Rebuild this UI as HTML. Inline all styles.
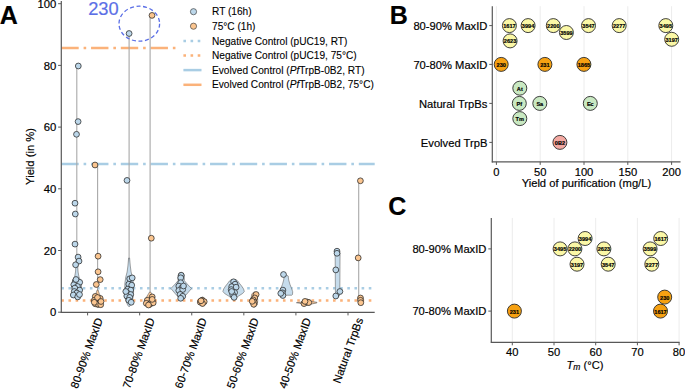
<!DOCTYPE html>
<html><head><meta charset="utf-8"><style>
html,body{margin:0;padding:0;background:#fff;overflow:hidden}
svg{display:block}
text{font-family:"Liberation Sans", sans-serif;stroke:#000;stroke-width:0.18px;paint-order:stroke}
</style></head><body>
<svg width="685" height="389" viewBox="0 0 685 389">
<line x1="61.3" y1="47.9" x2="374.7" y2="47.9" stroke="#fbb27a" stroke-width="2.5" stroke-dasharray="17.4 4.9 2.6 4.85"/>
<line x1="61.3" y1="163.9" x2="374.7" y2="163.9" stroke="#a9cde4" stroke-width="2.5" stroke-dasharray="17.4 4.9 2.6 4.85"/>
<line x1="61.3" y1="288.3" x2="374.7" y2="288.3" stroke="#a9cde4" stroke-width="2.5" stroke-dasharray="2.6 4.55"/>
<line x1="61.3" y1="300.4" x2="374.7" y2="300.4" stroke="#fbb27a" stroke-width="2.5" stroke-dasharray="2.6 4.55"/>
<line x1="76.8" y1="66" x2="76.8" y2="280" stroke="#a8a8a8" stroke-width="1.1"/>
<path d="M76.30,258.00 L75.90,266.00 L75.50,272.00 L74.60,277.00 L72.80,281.00 L72.00,286.00 L72.30,292.00 L73.80,296.00 L76.20,299.00 L77.40,299.00 L79.80,296.00 L81.30,292.00 L81.60,286.00 L80.80,281.00 L79.00,277.00 L78.10,272.00 L77.70,266.00 L77.30,258.00 Z" fill="#c6dcec" stroke="#5a5a5a" stroke-width="0.55" stroke-linejoin="round" opacity="1"/>
<circle cx="78.3" cy="66.0" r="2.9" fill="#bcd7ea" stroke="#262626" stroke-width="0.75"/>
<circle cx="78.1" cy="121.6" r="2.9" fill="#bcd7ea" stroke="#262626" stroke-width="0.75"/>
<circle cx="76.5" cy="134.3" r="2.9" fill="#bcd7ea" stroke="#262626" stroke-width="0.75"/>
<circle cx="75.0" cy="203.2" r="2.9" fill="#bcd7ea" stroke="#262626" stroke-width="0.75"/>
<circle cx="75.3" cy="214.0" r="2.9" fill="#bcd7ea" stroke="#262626" stroke-width="0.75"/>
<circle cx="75.0" cy="244.1" r="2.9" fill="#bcd7ea" stroke="#262626" stroke-width="0.75"/>
<circle cx="78.1" cy="257.1" r="2.9" fill="#bcd7ea" stroke="#262626" stroke-width="0.75"/>
<circle cx="79.0" cy="261.1" r="2.9" fill="#bcd7ea" stroke="#262626" stroke-width="0.75"/>
<circle cx="75.6" cy="264.8" r="2.9" fill="#bcd7ea" stroke="#262626" stroke-width="0.75"/>
<circle cx="75.3" cy="281.3" r="2.9" fill="#bcd7ea" stroke="#262626" stroke-width="0.75"/>
<circle cx="79.7" cy="282.3" r="2.9" fill="#bcd7ea" stroke="#262626" stroke-width="0.75"/>
<circle cx="73.8" cy="284.7" r="2.9" fill="#bcd7ea" stroke="#262626" stroke-width="0.75"/>
<circle cx="77.5" cy="286.5" r="2.9" fill="#bcd7ea" stroke="#262626" stroke-width="0.75"/>
<circle cx="74.8" cy="288.1" r="2.9" fill="#bcd7ea" stroke="#262626" stroke-width="0.75"/>
<circle cx="79.7" cy="290.1" r="2.9" fill="#bcd7ea" stroke="#262626" stroke-width="0.75"/>
<circle cx="74.3" cy="291.5" r="2.9" fill="#bcd7ea" stroke="#262626" stroke-width="0.75"/>
<circle cx="76.8" cy="293" r="2.9" fill="#bcd7ea" stroke="#262626" stroke-width="0.75"/>
<circle cx="73.3" cy="295" r="2.9" fill="#bcd7ea" stroke="#262626" stroke-width="0.75"/>
<circle cx="77.7" cy="296.9" r="2.9" fill="#bcd7ea" stroke="#262626" stroke-width="0.75"/>
<circle cx="79.5" cy="294.5" r="2.9" fill="#bcd7ea" stroke="#262626" stroke-width="0.75"/>
<circle cx="76.0" cy="279.5" r="2.9" fill="#bcd7ea" stroke="#262626" stroke-width="0.75"/>
<line x1="97.6" y1="164.8" x2="97.6" y2="300" stroke="#a8a8a8" stroke-width="1.1"/>
<path d="M97.10,290.00 L95.80,294.00 L94.10,297.00 L93.10,302.00 L94.10,305.00 L97.10,307.50 L98.10,307.50 L101.10,305.00 L102.10,302.00 L101.10,297.00 L99.40,294.00 L98.10,290.00 Z" fill="#f9c89a" stroke="#5a5a5a" stroke-width="0.55" stroke-linejoin="round" opacity="1"/>
<circle cx="95.0" cy="165.0" r="2.9" fill="#fbc58f" stroke="#262626" stroke-width="0.75"/>
<circle cx="98.1" cy="256.2" r="2.9" fill="#fbc58f" stroke="#262626" stroke-width="0.75"/>
<circle cx="98.1" cy="271.8" r="2.9" fill="#fbc58f" stroke="#262626" stroke-width="0.75"/>
<circle cx="100.2" cy="279.6" r="2.9" fill="#fbc58f" stroke="#262626" stroke-width="0.75"/>
<circle cx="96.3" cy="284.5" r="2.9" fill="#fbc58f" stroke="#262626" stroke-width="0.75"/>
<circle cx="95.3" cy="296.4" r="2.9" fill="#fbc58f" stroke="#262626" stroke-width="0.75"/>
<circle cx="100.2" cy="298.4" r="2.9" fill="#fbc58f" stroke="#262626" stroke-width="0.75"/>
<circle cx="94.3" cy="300.3" r="2.9" fill="#fbc58f" stroke="#262626" stroke-width="0.75"/>
<circle cx="97.3" cy="301.3" r="2.9" fill="#fbc58f" stroke="#262626" stroke-width="0.75"/>
<circle cx="99.7" cy="302.3" r="2.9" fill="#fbc58f" stroke="#262626" stroke-width="0.75"/>
<circle cx="95.3" cy="303.8" r="2.9" fill="#fbc58f" stroke="#262626" stroke-width="0.75"/>
<circle cx="98.3" cy="304.3" r="2.9" fill="#fbc58f" stroke="#262626" stroke-width="0.75"/>
<circle cx="100.7" cy="304.7" r="2.9" fill="#fbc58f" stroke="#262626" stroke-width="0.75"/>
<circle cx="94.3" cy="302.3" r="2.9" fill="#fbc58f" stroke="#262626" stroke-width="0.75"/>
<circle cx="97.5" cy="297.5" r="2.9" fill="#fbc58f" stroke="#262626" stroke-width="0.75"/>
<circle cx="101" cy="301.5" r="2.9" fill="#fbc58f" stroke="#262626" stroke-width="0.75"/>
<line x1="129.1" y1="33.5" x2="129.1" y2="280" stroke="#a8a8a8" stroke-width="1.1"/>
<path d="M128.60,258.00 L127.90,266.00 L127.10,272.00 L125.80,277.00 L124.90,283.00 L124.60,292.00 L125.60,300.00 L127.60,305.00 L128.70,306.50 L129.50,306.50 L130.60,305.00 L132.60,300.00 L133.60,292.00 L133.30,283.00 L132.40,277.00 L131.10,272.00 L130.30,266.00 L129.60,258.00 Z" fill="#c6dcec" stroke="#5a5a5a" stroke-width="0.55" stroke-linejoin="round" opacity="1"/>
<circle cx="129.1" cy="33.5" r="2.9" fill="#bcd7ea" stroke="#262626" stroke-width="0.75"/>
<circle cx="127.0" cy="180.4" r="2.9" fill="#bcd7ea" stroke="#262626" stroke-width="0.75"/>
<circle cx="129.7" cy="278.8" r="2.9" fill="#bcd7ea" stroke="#262626" stroke-width="0.75"/>
<circle cx="132.2" cy="277.9" r="2.9" fill="#bcd7ea" stroke="#262626" stroke-width="0.75"/>
<circle cx="128.8" cy="284.2" r="2.9" fill="#bcd7ea" stroke="#262626" stroke-width="0.75"/>
<circle cx="131.7" cy="285.2" r="2.9" fill="#bcd7ea" stroke="#262626" stroke-width="0.75"/>
<circle cx="127.8" cy="289.1" r="2.9" fill="#bcd7ea" stroke="#262626" stroke-width="0.75"/>
<circle cx="130.7" cy="290.1" r="2.9" fill="#bcd7ea" stroke="#262626" stroke-width="0.75"/>
<circle cx="127.3" cy="293" r="2.9" fill="#bcd7ea" stroke="#262626" stroke-width="0.75"/>
<circle cx="130.7" cy="294.5" r="2.9" fill="#bcd7ea" stroke="#262626" stroke-width="0.75"/>
<circle cx="126.8" cy="296" r="2.9" fill="#bcd7ea" stroke="#262626" stroke-width="0.75"/>
<circle cx="129.7" cy="297.4" r="2.9" fill="#bcd7ea" stroke="#262626" stroke-width="0.75"/>
<circle cx="128.8" cy="300.3" r="2.9" fill="#bcd7ea" stroke="#262626" stroke-width="0.75"/>
<circle cx="131.2" cy="302.3" r="2.9" fill="#bcd7ea" stroke="#262626" stroke-width="0.75"/>
<circle cx="125.8" cy="291.5" r="2.9" fill="#bcd7ea" stroke="#262626" stroke-width="0.75"/>
<line x1="150.1" y1="15.4" x2="150.1" y2="300" stroke="#a8a8a8" stroke-width="1.1"/>
<path d="M149.60,292.00 L147.10,296.00 L145.10,300.00 L145.60,304.00 L149.60,307.50 L150.60,307.50 L154.60,304.00 L155.10,300.00 L153.10,296.00 L150.60,292.00 Z" fill="#f9c89a" stroke="#5a5a5a" stroke-width="0.55" stroke-linejoin="round" opacity="1"/>
<circle cx="152.0" cy="15.4" r="2.9" fill="#fbc58f" stroke="#262626" stroke-width="0.75"/>
<circle cx="151.3" cy="238.2" r="2.9" fill="#fbc58f" stroke="#262626" stroke-width="0.75"/>
<circle cx="152.2" cy="296.9" r="2.9" fill="#fbc58f" stroke="#262626" stroke-width="0.75"/>
<circle cx="147.3" cy="300.3" r="2.9" fill="#fbc58f" stroke="#262626" stroke-width="0.75"/>
<circle cx="151.7" cy="301.3" r="2.9" fill="#fbc58f" stroke="#262626" stroke-width="0.75"/>
<circle cx="146.3" cy="303.3" r="2.9" fill="#fbc58f" stroke="#262626" stroke-width="0.75"/>
<circle cx="150.3" cy="303.8" r="2.9" fill="#fbc58f" stroke="#262626" stroke-width="0.75"/>
<circle cx="153.2" cy="302.8" r="2.9" fill="#fbc58f" stroke="#262626" stroke-width="0.75"/>
<circle cx="152.2" cy="299.4" r="2.9" fill="#fbc58f" stroke="#262626" stroke-width="0.75"/>
<circle cx="148.5" cy="305" r="2.9" fill="#fbc58f" stroke="#262626" stroke-width="0.75"/>
<path d="M180.70,272.40 L179.00,273.20 L178.20,275.00 L178.00,280.70 L175.20,284.00 L170.90,288.50 L174.70,293.00 L178.20,297.00 L180.80,300.30 L181.60,300.30 L184.20,297.00 L187.70,293.00 L191.50,288.50 L187.20,284.00 L184.40,280.70 L184.20,275.00 L183.40,273.20 L181.70,272.40 Z" fill="#c6dcec" stroke="#5a5a5a" stroke-width="0.55" stroke-linejoin="round" opacity="1"/>
<circle cx="181.2" cy="275.3" r="2.9" fill="#bcd7ea" stroke="#262626" stroke-width="0.75"/>
<circle cx="180.7" cy="277.8" r="2.9" fill="#bcd7ea" stroke="#262626" stroke-width="0.75"/>
<circle cx="180.7" cy="282.7" r="2.9" fill="#bcd7ea" stroke="#262626" stroke-width="0.75"/>
<circle cx="178.8" cy="286.1" r="2.9" fill="#bcd7ea" stroke="#262626" stroke-width="0.75"/>
<circle cx="181.7" cy="288" r="2.9" fill="#bcd7ea" stroke="#262626" stroke-width="0.75"/>
<circle cx="178.8" cy="290.5" r="2.9" fill="#bcd7ea" stroke="#262626" stroke-width="0.75"/>
<circle cx="182.7" cy="289.5" r="2.9" fill="#bcd7ea" stroke="#262626" stroke-width="0.75"/>
<circle cx="180.2" cy="294.4" r="2.9" fill="#bcd7ea" stroke="#262626" stroke-width="0.75"/>
<circle cx="182.7" cy="296.3" r="2.9" fill="#bcd7ea" stroke="#262626" stroke-width="0.75"/>
<circle cx="180.7" cy="298.3" r="2.9" fill="#bcd7ea" stroke="#262626" stroke-width="0.75"/>
<circle cx="183.5" cy="286" r="2.9" fill="#bcd7ea" stroke="#262626" stroke-width="0.75"/>
<path d="M202.00,297.00 L199.50,299.00 L198.50,302.00 L200.00,305.00 L202.00,306.00 L203.00,306.00 L205.00,305.00 L206.50,302.00 L205.50,299.00 L203.00,297.00 Z" fill="#f9c89a" stroke="#5a5a5a" stroke-width="0.55" stroke-linejoin="round" opacity="1"/>
<circle cx="202.2" cy="300.3" r="2.9" fill="#fbc58f" stroke="#262626" stroke-width="0.75"/>
<circle cx="200.3" cy="302.2" r="2.9" fill="#fbc58f" stroke="#262626" stroke-width="0.75"/>
<circle cx="204.2" cy="301.7" r="2.9" fill="#fbc58f" stroke="#262626" stroke-width="0.75"/>
<circle cx="202.5" cy="303.5" r="2.9" fill="#fbc58f" stroke="#262626" stroke-width="0.75"/>
<circle cx="201" cy="300.8" r="2.9" fill="#fbc58f" stroke="#262626" stroke-width="0.75"/>
<path d="M233.10,279.50 L231.10,279.80 L229.40,281.00 L228.00,283.00 L225.60,286.00 L223.60,289.00 L222.90,291.50 L224.60,293.50 L228.60,296.00 L233.20,299.40 L234.00,299.40 L238.60,296.00 L242.60,293.50 L244.30,291.50 L243.60,289.00 L241.60,286.00 L239.20,283.00 L237.80,281.00 L236.10,279.80 L234.10,279.50 Z" fill="#c6dcec" stroke="#5a5a5a" stroke-width="0.55" stroke-linejoin="round" opacity="1"/>
<circle cx="233.6" cy="281.8" r="2.9" fill="#bcd7ea" stroke="#262626" stroke-width="0.75"/>
<circle cx="235.1" cy="284.2" r="2.9" fill="#bcd7ea" stroke="#262626" stroke-width="0.75"/>
<circle cx="231.7" cy="286.7" r="2.9" fill="#bcd7ea" stroke="#262626" stroke-width="0.75"/>
<circle cx="236.1" cy="287.2" r="2.9" fill="#bcd7ea" stroke="#262626" stroke-width="0.75"/>
<circle cx="231.2" cy="289.6" r="2.9" fill="#bcd7ea" stroke="#262626" stroke-width="0.75"/>
<circle cx="234.6" cy="292.5" r="2.9" fill="#bcd7ea" stroke="#262626" stroke-width="0.75"/>
<circle cx="232.7" cy="294.5" r="2.9" fill="#bcd7ea" stroke="#262626" stroke-width="0.75"/>
<circle cx="234.1" cy="297.4" r="2.9" fill="#bcd7ea" stroke="#262626" stroke-width="0.75"/>
<circle cx="231.7" cy="291.5" r="2.9" fill="#bcd7ea" stroke="#262626" stroke-width="0.75"/>
<path d="M253.80,292.00 L251.80,294.00 L250.80,300.00 L251.30,305.00 L253.80,307.00 L254.80,307.00 L257.30,305.00 L257.80,300.00 L256.80,294.00 L254.80,292.00 Z" fill="#f9c89a" stroke="#5a5a5a" stroke-width="0.55" stroke-linejoin="round" opacity="1"/>
<circle cx="256.1" cy="294.5" r="2.9" fill="#fbc58f" stroke="#262626" stroke-width="0.75"/>
<circle cx="254.7" cy="297.9" r="2.9" fill="#fbc58f" stroke="#262626" stroke-width="0.75"/>
<circle cx="253.2" cy="299.9" r="2.9" fill="#fbc58f" stroke="#262626" stroke-width="0.75"/>
<circle cx="254.2" cy="302.3" r="2.9" fill="#fbc58f" stroke="#262626" stroke-width="0.75"/>
<circle cx="253.7" cy="304.3" r="2.9" fill="#fbc58f" stroke="#262626" stroke-width="0.75"/>
<circle cx="252.2" cy="301.3" r="2.9" fill="#fbc58f" stroke="#262626" stroke-width="0.75"/>
<path d="M285.70,275.20 L284.20,276.00 L283.70,280.00 L282.50,284.20 L281.00,288.00 L279.70,291.70 L279.90,294.50 L280.70,295.20 L291.70,295.20 L292.50,294.50 L292.70,291.70 L291.40,288.00 L289.90,284.20 L288.70,280.00 L288.20,276.00 L286.70,275.20 Z" fill="#c6dcec" stroke="#5a5a5a" stroke-width="0.55" stroke-linejoin="round" opacity="1"/>
<circle cx="283.5" cy="274.5" r="2.9" fill="#bcd7ea" stroke="#262626" stroke-width="0.75"/>
<circle cx="282.9" cy="290.1" r="2.9" fill="#bcd7ea" stroke="#262626" stroke-width="0.75"/>
<circle cx="282.4" cy="292.8" r="2.9" fill="#bcd7ea" stroke="#262626" stroke-width="0.75"/>
<circle cx="282.9" cy="295.5" r="2.9" fill="#bcd7ea" stroke="#262626" stroke-width="0.75"/>
<circle cx="280.8" cy="293.4" r="2.9" fill="#bcd7ea" stroke="#262626" stroke-width="0.75"/>
<path d="M296.4,302.7 L301,302.2 L303,300.3 L309,299.9 L311.5,301.5 L316.9,302.3 L316.9,302.9 L311.5,304 L309,305.3 L303,305.4 L301,303.4 Z" fill="#f9c89a" stroke="#555" stroke-width="0.6"/>
<circle cx="304" cy="303.6" r="2.9" fill="#fbc58f" stroke="#262626" stroke-width="0.75"/>
<circle cx="307.2" cy="302" r="2.9" fill="#fbc58f" stroke="#262626" stroke-width="0.75"/>
<circle cx="308.8" cy="302.5" r="2.9" fill="#fbc58f" stroke="#262626" stroke-width="0.75"/>
<circle cx="305" cy="301.4" r="2.9" fill="#fbc58f" stroke="#262626" stroke-width="0.75"/>
<path d="M336.10,251.00 L335.10,253.00 L335.20,260.00 L335.30,280.00 L335.40,292.00 L335.80,296.00 L337.10,297.00 L338.10,297.00 L339.40,296.00 L339.80,292.00 L339.90,280.00 L340.00,260.00 L340.10,253.00 L339.10,251.00 Z" fill="#c6dcec" stroke="#5a5a5a" stroke-width="0.55" stroke-linejoin="round" opacity="1"/>
<circle cx="337.0" cy="251.2" r="2.9" fill="#bcd7ea" stroke="#262626" stroke-width="0.75"/>
<circle cx="337.0" cy="253.3" r="2.9" fill="#bcd7ea" stroke="#262626" stroke-width="0.75"/>
<circle cx="335.8" cy="269.9" r="2.9" fill="#bcd7ea" stroke="#262626" stroke-width="0.75"/>
<circle cx="339.9" cy="291.5" r="2.9" fill="#bcd7ea" stroke="#262626" stroke-width="0.75"/>
<circle cx="335.8" cy="296.0" r="2.9" fill="#bcd7ea" stroke="#262626" stroke-width="0.75"/>
<line x1="358.7" y1="180.8" x2="358.7" y2="300" stroke="#a8a8a8" stroke-width="1.1"/>
<circle cx="360.4" cy="180.8" r="2.9" fill="#fbc58f" stroke="#262626" stroke-width="0.75"/>
<circle cx="358.2" cy="257.9" r="2.9" fill="#fbc58f" stroke="#262626" stroke-width="0.75"/>
<circle cx="360.5" cy="298.0" r="2.9" fill="#fbc58f" stroke="#262626" stroke-width="0.75"/>
<circle cx="360.5" cy="300.3" r="2.9" fill="#fbc58f" stroke="#262626" stroke-width="0.75"/>
<circle cx="360.8" cy="302.7" r="2.9" fill="#fbc58f" stroke="#262626" stroke-width="0.75"/>
<line x1="61.3" y1="1.0" x2="61.3" y2="312.9" stroke="#585858" stroke-width="1.2"/>
<line x1="60.8" y1="312.4" x2="374.7" y2="312.4" stroke="#585858" stroke-width="1.2"/>
<line x1="58.099999999999994" y1="312.20" x2="61.3" y2="312.20" stroke="#585858" stroke-width="1"/>
<text fill="#000" x="56.3" y="316.40" text-anchor="end" font-size="11.3">0</text>
<line x1="58.099999999999994" y1="250.50" x2="61.3" y2="250.50" stroke="#585858" stroke-width="1"/>
<text fill="#000" x="56.3" y="254.70" text-anchor="end" font-size="11.3">20</text>
<line x1="58.099999999999994" y1="188.80" x2="61.3" y2="188.80" stroke="#585858" stroke-width="1"/>
<text fill="#000" x="56.3" y="193.00" text-anchor="end" font-size="11.3">40</text>
<line x1="58.099999999999994" y1="127.10" x2="61.3" y2="127.10" stroke="#585858" stroke-width="1"/>
<text fill="#000" x="56.3" y="131.30" text-anchor="end" font-size="11.3">60</text>
<line x1="58.099999999999994" y1="65.40" x2="61.3" y2="65.40" stroke="#585858" stroke-width="1"/>
<text fill="#000" x="56.3" y="69.60" text-anchor="end" font-size="11.3">80</text>
<line x1="58.099999999999994" y1="3.70" x2="61.3" y2="3.70" stroke="#585858" stroke-width="1"/>
<text fill="#000" x="56.3" y="7.90" text-anchor="end" font-size="11.3">100</text>
<line x1="87.60" y1="312.4" x2="87.60" y2="315.4" stroke="#585858" stroke-width="1"/>
<line x1="139.68" y1="312.4" x2="139.68" y2="315.4" stroke="#585858" stroke-width="1"/>
<line x1="191.76" y1="312.4" x2="191.76" y2="315.4" stroke="#585858" stroke-width="1"/>
<line x1="243.84" y1="312.4" x2="243.84" y2="315.4" stroke="#585858" stroke-width="1"/>
<line x1="295.92" y1="312.4" x2="295.92" y2="315.4" stroke="#585858" stroke-width="1"/>
<line x1="348.00" y1="312.4" x2="348.00" y2="315.4" stroke="#585858" stroke-width="1"/>
<text fill="#000" transform="translate(102.90,319.6) rotate(-70)" text-anchor="end" font-size="11.2">80-90% MaxID</text>
<text fill="#000" transform="translate(154.98,319.6) rotate(-70)" text-anchor="end" font-size="11.2">70-80% MaxID</text>
<text fill="#000" transform="translate(207.06,319.6) rotate(-70)" text-anchor="end" font-size="11.2">60-70% MaxID</text>
<text fill="#000" transform="translate(259.14,319.6) rotate(-70)" text-anchor="end" font-size="11.2">50-60% MaxID</text>
<text fill="#000" transform="translate(311.22,319.6) rotate(-70)" text-anchor="end" font-size="11.2">40-50% MaxID</text>
<text fill="#000" transform="translate(363.30,319.6) rotate(-70)" text-anchor="end" font-size="11.2">Natural TrpBs</text>
<text fill="#000" transform="translate(34.3,156.5) rotate(-90)" text-anchor="middle" font-size="11.2">Yield (in %)</text>
<text fill="#000" x="-0.3" y="24" font-size="25" font-weight="bold">A</text>
<ellipse cx="139.3" cy="23.7" rx="20.3" ry="17.5" fill="none" stroke="#5b6fe6" stroke-width="1.3" stroke-dasharray="4 2.6"/>
<text x="88.2" y="15.4" font-size="18.3" fill="#5b6fe6" style="stroke:#5b6fe6">230</text>
<rect x="178" y="1" width="200" height="94" fill="#fff"/>
<circle cx="193.5" cy="11.7" r="3.1" fill="#bcd7ea" stroke="#444" stroke-width="0.7"/>
<circle cx="193.5" cy="26.2" r="3.1" fill="#fbc58f" stroke="#444" stroke-width="0.7"/>
<line x1="183.4" y1="40.9" x2="203" y2="40.9" stroke="#a9cde4" stroke-width="2.5" stroke-dasharray="2.6 4.55"/>
<line x1="183.4" y1="55.4" x2="203" y2="55.4" stroke="#fbb27a" stroke-width="2.5" stroke-dasharray="2.6 4.55"/>
<line x1="183.4" y1="70.1" x2="201.5" y2="70.1" stroke="#a9cde4" stroke-width="2.5"/>
<line x1="183.4" y1="84.8" x2="201.5" y2="84.8" stroke="#fbb27a" stroke-width="2.5"/>
<text fill="#000" x="212.0" y="15.30" font-size="10.15" style="stroke-width:0.1px">RT (16h)</text>
<text fill="#000" x="212.0" y="29.92" font-size="10.15" style="stroke-width:0.1px">75°C (1h)</text>
<text fill="#000" x="212.0" y="44.54" font-size="10.15" style="stroke-width:0.1px">Negative Control (pUC19, RT)</text>
<text fill="#000" x="212.0" y="59.16" font-size="10.15" style="stroke-width:0.1px">Negative Control (pUC19, 75°C)</text>
<text fill="#000" x="212.0" y="73.78" font-size="10.15" style="stroke-width:0.1px">Evolved Control (<tspan font-style="italic">Pf</tspan>TrpB-0B2, RT)</text>
<text fill="#000" x="212.0" y="88.40" font-size="10.15" style="stroke-width:0.1px">Evolved Control (<tspan font-style="italic">Pf</tspan>TrpB-0B2, 75°C)</text>
<line x1="496.40" y1="6.2" x2="496.40" y2="161.9" stroke="#ececec" stroke-width="1"/>
<line x1="540.20" y1="6.2" x2="540.20" y2="161.9" stroke="#ececec" stroke-width="1"/>
<line x1="584.00" y1="6.2" x2="584.00" y2="161.9" stroke="#ececec" stroke-width="1"/>
<line x1="627.80" y1="6.2" x2="627.80" y2="161.9" stroke="#ececec" stroke-width="1"/>
<line x1="671.60" y1="6.2" x2="671.60" y2="161.9" stroke="#ececec" stroke-width="1"/>
<text fill="#000" x="-0.3" y="0" font-size="25" font-weight="bold" transform="translate(390.1,23.8)">B</text>
<line x1="489.3" y1="25.6" x2="492.3" y2="25.6" stroke="#585858" stroke-width="1"/>
<text fill="#000" x="487.4" y="29.70" text-anchor="end" font-size="11.2">80-90% MaxID</text>
<line x1="489.3" y1="64.4" x2="492.3" y2="64.4" stroke="#585858" stroke-width="1"/>
<text fill="#000" x="487.4" y="68.50" text-anchor="end" font-size="11.2">70-80% MaxID</text>
<line x1="489.3" y1="103.4" x2="492.3" y2="103.4" stroke="#585858" stroke-width="1"/>
<text fill="#000" x="487.4" y="107.50" text-anchor="end" font-size="11.2">Natural TrpBs</text>
<line x1="489.3" y1="142.4" x2="492.3" y2="142.4" stroke="#585858" stroke-width="1"/>
<text fill="#000" x="487.4" y="146.50" text-anchor="end" font-size="11.2">Evolved TrpB</text>
<line x1="492.3" y1="6.2" x2="492.3" y2="162.4" stroke="#585858" stroke-width="1.2"/>
<line x1="491.8" y1="161.9" x2="680.5" y2="161.9" stroke="#585858" stroke-width="1.2"/>
<line x1="496.40" y1="161.9" x2="496.40" y2="164.9" stroke="#585858" stroke-width="1"/>
<text fill="#000" x="496.40" y="175.7" text-anchor="middle" font-size="11.2">0</text>
<line x1="540.20" y1="161.9" x2="540.20" y2="164.9" stroke="#585858" stroke-width="1"/>
<text fill="#000" x="540.20" y="175.7" text-anchor="middle" font-size="11.2">50</text>
<line x1="584.00" y1="161.9" x2="584.00" y2="164.9" stroke="#585858" stroke-width="1"/>
<text fill="#000" x="584.00" y="175.7" text-anchor="middle" font-size="11.2">100</text>
<line x1="627.80" y1="161.9" x2="627.80" y2="164.9" stroke="#585858" stroke-width="1"/>
<text fill="#000" x="627.80" y="175.7" text-anchor="middle" font-size="11.2">150</text>
<line x1="671.60" y1="161.9" x2="671.60" y2="164.9" stroke="#585858" stroke-width="1"/>
<text fill="#000" x="671.60" y="175.7" text-anchor="middle" font-size="11.2">200</text>
<text fill="#000" x="586.4" y="187.3" text-anchor="middle" font-size="11.2">Yield of purification (mg/L)</text>
<circle cx="509.4" cy="25.6" r="7.0" fill="#fbf8a6" stroke="#2a2a2a" stroke-width="0.9"/>
<text fill="#000" x="509.4" y="28.00" text-anchor="middle" font-size="5.6" font-weight="bold">1617</text>
<circle cx="528.1" cy="25.6" r="7.0" fill="#fbf8a6" stroke="#2a2a2a" stroke-width="0.9"/>
<text fill="#000" x="528.1" y="28.00" text-anchor="middle" font-size="5.6" font-weight="bold">3994</text>
<circle cx="553.3" cy="25.6" r="7.0" fill="#fbf8a6" stroke="#2a2a2a" stroke-width="0.9"/>
<text fill="#000" x="553.3" y="28.00" text-anchor="middle" font-size="5.6" font-weight="bold">2200</text>
<circle cx="566.4" cy="32.5" r="7.0" fill="#fbf8a6" stroke="#2a2a2a" stroke-width="0.9"/>
<text fill="#000" x="566.4" y="34.90" text-anchor="middle" font-size="5.6" font-weight="bold">3599</text>
<circle cx="510.1" cy="40.9" r="7.0" fill="#fbf8a6" stroke="#2a2a2a" stroke-width="0.9"/>
<text fill="#000" x="510.1" y="43.30" text-anchor="middle" font-size="5.6" font-weight="bold">2623</text>
<circle cx="588.5" cy="25.6" r="7.0" fill="#fbf8a6" stroke="#2a2a2a" stroke-width="0.9"/>
<text fill="#000" x="588.5" y="28.00" text-anchor="middle" font-size="5.6" font-weight="bold">3547</text>
<circle cx="619.2" cy="25.6" r="7.0" fill="#fbf8a6" stroke="#2a2a2a" stroke-width="0.9"/>
<text fill="#000" x="619.2" y="28.00" text-anchor="middle" font-size="5.6" font-weight="bold">2277</text>
<circle cx="665.8" cy="25.6" r="7.0" fill="#fbf8a6" stroke="#2a2a2a" stroke-width="0.9"/>
<text fill="#000" x="665.8" y="28.00" text-anchor="middle" font-size="5.6" font-weight="bold">3495</text>
<circle cx="671.7" cy="39.3" r="7.0" fill="#fbf8a6" stroke="#2a2a2a" stroke-width="0.9"/>
<text fill="#000" x="671.7" y="41.70" text-anchor="middle" font-size="5.6" font-weight="bold">3197</text>
<circle cx="501.2" cy="64.4" r="7.0" fill="#f6a112" stroke="#2a2a2a" stroke-width="0.9"/>
<text fill="#000" x="501.2" y="66.80" text-anchor="middle" font-size="5.6" font-weight="bold">230</text>
<circle cx="544.9" cy="64.4" r="7.0" fill="#f6a112" stroke="#2a2a2a" stroke-width="0.9"/>
<text fill="#000" x="544.9" y="66.80" text-anchor="middle" font-size="5.6" font-weight="bold">231</text>
<circle cx="583.9" cy="64.4" r="7.0" fill="#f6a112" stroke="#2a2a2a" stroke-width="0.9"/>
<text fill="#000" x="583.9" y="66.80" text-anchor="middle" font-size="5.6" font-weight="bold">1865</text>
<circle cx="519.8" cy="88.2" r="7.0" fill="#c9e9c2" stroke="#2a2a2a" stroke-width="0.9"/>
<text fill="#000" x="519.8" y="90.60" text-anchor="middle" font-size="5.6" font-weight="bold">At</text>
<circle cx="519.3" cy="103.4" r="7.0" fill="#c9e9c2" stroke="#2a2a2a" stroke-width="0.9"/>
<text fill="#000" x="519.3" y="105.80" text-anchor="middle" font-size="5.6" font-weight="bold">Pf</text>
<circle cx="519.8" cy="118.6" r="7.0" fill="#c9e9c2" stroke="#2a2a2a" stroke-width="0.9"/>
<text fill="#000" x="519.8" y="121.00" text-anchor="middle" font-size="5.6" font-weight="bold">Tm</text>
<circle cx="539.8" cy="103.4" r="7.0" fill="#c9e9c2" stroke="#2a2a2a" stroke-width="0.9"/>
<text fill="#000" x="539.8" y="105.80" text-anchor="middle" font-size="5.6" font-weight="bold">Sa</text>
<circle cx="590.3" cy="103.4" r="7.0" fill="#c9e9c2" stroke="#2a2a2a" stroke-width="0.9"/>
<text fill="#000" x="590.3" y="105.80" text-anchor="middle" font-size="5.6" font-weight="bold">Ec</text>
<circle cx="559.9" cy="142.4" r="7.0" fill="#f4a9a2" stroke="#2a2a2a" stroke-width="0.9"/>
<text fill="#000" x="559.9" y="144.80" text-anchor="middle" font-size="5.6" font-weight="bold">0B2</text>
<line x1="512.30" y1="217.9" x2="512.30" y2="342.3" stroke="#ececec" stroke-width="1"/>
<line x1="554.00" y1="217.9" x2="554.00" y2="342.3" stroke="#ececec" stroke-width="1"/>
<line x1="595.70" y1="217.9" x2="595.70" y2="342.3" stroke="#ececec" stroke-width="1"/>
<line x1="637.40" y1="217.9" x2="637.40" y2="342.3" stroke="#ececec" stroke-width="1"/>
<line x1="679.10" y1="217.9" x2="679.10" y2="342.3" stroke="#ececec" stroke-width="1"/>
<text fill="#000" x="-0.3" y="0" font-size="25" font-weight="bold" transform="translate(388.6,215.2)">C</text>
<line x1="488.3" y1="248.9" x2="491.3" y2="248.9" stroke="#585858" stroke-width="1"/>
<text fill="#000" x="486.4" y="253.00" text-anchor="end" font-size="11.2">80-90% MaxID</text>
<line x1="488.3" y1="311.1" x2="491.3" y2="311.1" stroke="#585858" stroke-width="1"/>
<text fill="#000" x="486.4" y="315.20" text-anchor="end" font-size="11.2">70-80% MaxID</text>
<line x1="491.3" y1="217.9" x2="491.3" y2="342.8" stroke="#585858" stroke-width="1.2"/>
<line x1="490.8" y1="342.3" x2="679.6" y2="342.3" stroke="#585858" stroke-width="1.2"/>
<line x1="512.30" y1="342.3" x2="512.30" y2="345.3" stroke="#585858" stroke-width="1"/>
<text fill="#000" x="512.30" y="356.4" text-anchor="middle" font-size="11.2">40</text>
<line x1="554.00" y1="342.3" x2="554.00" y2="345.3" stroke="#585858" stroke-width="1"/>
<text fill="#000" x="554.00" y="356.4" text-anchor="middle" font-size="11.2">50</text>
<line x1="595.70" y1="342.3" x2="595.70" y2="345.3" stroke="#585858" stroke-width="1"/>
<text fill="#000" x="595.70" y="356.4" text-anchor="middle" font-size="11.2">60</text>
<line x1="637.40" y1="342.3" x2="637.40" y2="345.3" stroke="#585858" stroke-width="1"/>
<text fill="#000" x="637.40" y="356.4" text-anchor="middle" font-size="11.2">70</text>
<line x1="679.10" y1="342.3" x2="679.10" y2="345.3" stroke="#585858" stroke-width="1"/>
<text fill="#000" x="679.10" y="356.4" text-anchor="middle" font-size="11.2">80</text>
<text fill="#000" x="566.5" y="368.8" font-size="11.2"><tspan font-style="italic">T</tspan><tspan font-style="italic" font-size="8.5" dy="1.5">m</tspan><tspan dy="-1.5"> (°C)</tspan></text>
<circle cx="585.1" cy="238.5" r="7.0" fill="#fbf8a6" stroke="#2a2a2a" stroke-width="0.9"/>
<text fill="#000" x="585.1" y="240.90" text-anchor="middle" font-size="5.6" font-weight="bold">3994</text>
<circle cx="560.1" cy="248.9" r="7.0" fill="#fbf8a6" stroke="#2a2a2a" stroke-width="0.9"/>
<text fill="#000" x="560.1" y="251.30" text-anchor="middle" font-size="5.6" font-weight="bold">3495</text>
<circle cx="574.9" cy="248.9" r="7.0" fill="#fbf8a6" stroke="#2a2a2a" stroke-width="0.9"/>
<text fill="#000" x="574.9" y="251.30" text-anchor="middle" font-size="5.6" font-weight="bold">2200</text>
<circle cx="577.0" cy="264.2" r="7.0" fill="#fbf8a6" stroke="#2a2a2a" stroke-width="0.9"/>
<text fill="#000" x="577.0" y="266.60" text-anchor="middle" font-size="5.6" font-weight="bold">3197</text>
<circle cx="603.9" cy="248.9" r="7.0" fill="#fbf8a6" stroke="#2a2a2a" stroke-width="0.9"/>
<text fill="#000" x="603.9" y="251.30" text-anchor="middle" font-size="5.6" font-weight="bold">2623</text>
<circle cx="608.2" cy="264.2" r="7.0" fill="#fbf8a6" stroke="#2a2a2a" stroke-width="0.9"/>
<text fill="#000" x="608.2" y="266.60" text-anchor="middle" font-size="5.6" font-weight="bold">3547</text>
<circle cx="660.7" cy="238.5" r="7.0" fill="#fbf8a6" stroke="#2a2a2a" stroke-width="0.9"/>
<text fill="#000" x="660.7" y="240.90" text-anchor="middle" font-size="5.6" font-weight="bold">1617</text>
<circle cx="650.1" cy="248.9" r="7.0" fill="#fbf8a6" stroke="#2a2a2a" stroke-width="0.9"/>
<text fill="#000" x="650.1" y="251.30" text-anchor="middle" font-size="5.6" font-weight="bold">3599</text>
<circle cx="651.8" cy="264.2" r="7.0" fill="#fbf8a6" stroke="#2a2a2a" stroke-width="0.9"/>
<text fill="#000" x="651.8" y="266.60" text-anchor="middle" font-size="5.6" font-weight="bold">2277</text>
<circle cx="514.4" cy="311.1" r="7.0" fill="#f6a112" stroke="#2a2a2a" stroke-width="0.9"/>
<text fill="#000" x="514.4" y="313.50" text-anchor="middle" font-size="5.6" font-weight="bold">231</text>
<circle cx="664.7" cy="297.1" r="7.0" fill="#f6a112" stroke="#2a2a2a" stroke-width="0.9"/>
<text fill="#000" x="664.7" y="299.50" text-anchor="middle" font-size="5.6" font-weight="bold">230</text>
<circle cx="660.5" cy="311.1" r="7.0" fill="#f6a112" stroke="#2a2a2a" stroke-width="0.9"/>
<text fill="#000" x="660.5" y="313.50" text-anchor="middle" font-size="5.6" font-weight="bold">1617</text>
</svg>
</body></html>
